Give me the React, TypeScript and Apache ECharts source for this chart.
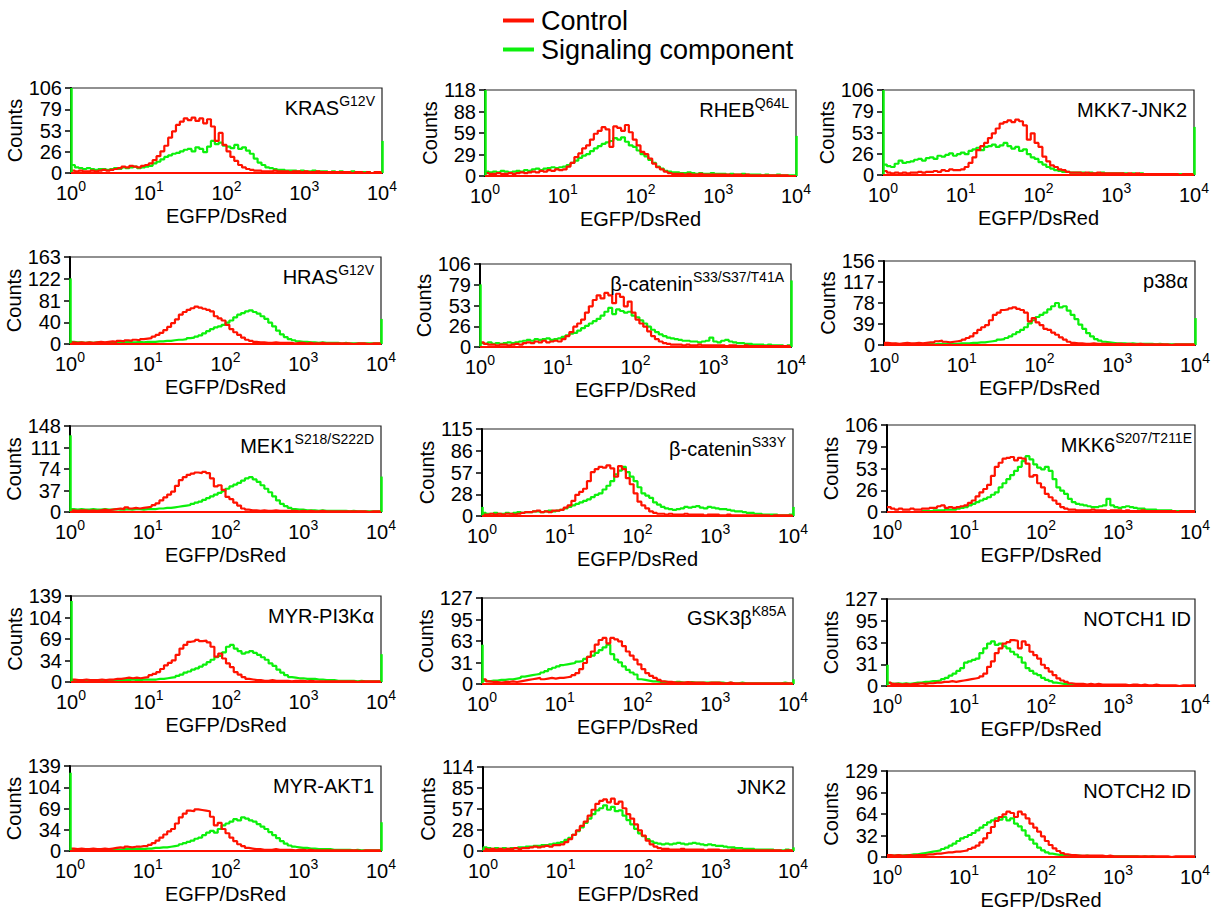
import React, { useEffect, useRef } from "react";
import * as echarts from "echarts";

// Bin edges on log10(EGFP/DsRed) scale (10^0 .. 10^4)
const BIN_EDGES = [
  0, 0.05, 0.1, 0.15, 0.2, 0.25, 0.3, 0.35, 0.4, 0.45,
  0.5, 0.55, 0.6, 0.65, 0.7, 0.75, 0.8, 0.85, 0.9, 0.95,
  1, 1.05, 1.1, 1.15, 1.2, 1.25, 1.3, 1.35, 1.4, 1.45,
  1.5, 1.55, 1.6, 1.65, 1.7, 1.75, 1.8, 1.85, 1.9, 1.95,
  2, 2.05, 2.1, 2.15, 2.2, 2.25, 2.3, 2.35, 2.4, 2.45,
  2.5, 2.55, 2.6, 2.65, 2.7, 2.75, 2.8, 2.85, 2.9, 2.95,
  3, 3.05, 3.1, 3.15, 3.2, 3.25, 3.3, 3.35, 3.4, 3.45,
  3.5, 3.55, 3.6, 3.65, 3.7, 3.75, 3.8, 3.85, 3.9, 3.95,
  4,
];
const X_EXPONENTS = [0, 1, 2, 3, 4];

const PANEL_NAMES = [
  "KRAS", "RHEB", "MKK7-JNK2",
  "HRAS", "β-catenin", "p38α",
  "MEK1", "β-catenin", "MKK6",
  "MYR-PI3Kα", "GSK3β", "NOTCH1 ID",
  "MYR-AKT1", "JNK2", "NOTCH2 ID",
];
const PANEL_SUPS = [
  "G12V", "Q64L", "",
  "G12V", "S33/S37/T41A", "",
  "S218/S222D", "S33Y", "S207/T211E",
  "", "K85A", "",
  "", "", "",
];
const Y_MAX = [106, 118, 106, 163, 106, 156, 148, 115, 106, 139, 127, 127, 139, 114, 129];

// Signaling-component counts piled at the scale edges (10^0 and 10^4)
const SIG_LEFT_EDGE = [106, 118, 106, 123, 80, 0, 132, 12, 0, 131, 58, 31, 128, 5, 0];
const SIG_RIGHT_EDGE = [40, 55, 60, 47, 85, 50, 61, 12, 0, 45, 7, 0, 47, 5, 0];

// ---- Control (red) and Signaling component (green) histograms ----
const ctrlKRAS = [3,2,3,2,2,3,2,3,4,3, 4,5,6,8,7,9,8,7,9,10, 12,16,21,27,34,44,52,60,64,68, 66,69,65,68,62,67,58,40,50,35, 27,20,15,10,7,5,4,3,3,2, 2,2,3,2,2,2,1,2,2,1, 2,1,1,2,1,1,1,1,1,1, 1,1,0,1,1,0,1,0,1,1];
const sigKRAS = [10,7,6,5,6,5,4,5,5,4, 5,6,5,7,6,7,8,6,7,8, 9,12,14,17,20,22,24,25,27,29, 30,27,32,30,26,33,40,36,38,34, 33,31,35,30,32,28,24,18,13,10, 7,6,5,4,4,3,3,3,2,3, 2,2,3,2,2,2,1,2,1,2, 1,1,2,1,1,1,1,0,1,1];

const ctrlRHEB = [4,3,3,4,3,3,4,3,4,5, 4,5,6,5,7,6,8,7,9,8, 9,13,18,26,31,38,42,50,58,62, 67,64,40,68,66,62,70,60,50,42, 33,30,24,17,12,9,6,4,3,3, 3,2,3,2,2,3,2,2,2,2, 2,2,2,1,2,2,1,2,1,1, 1,1,1,1,1,1,1,1,0,0];
const sigRHEB = [6,5,6,5,7,6,5,6,7,6, 8,7,9,10,8,10,11,12,11,12, 13,15,18,21,25,28,30,34,38,41, 44,46,48,52,50,53,47,42,40,35, 30,27,22,18,13,10,7,6,5,5, 4,4,5,4,3,4,3,3,4,3, 3,3,2,3,2,2,3,2,2,2, 2,1,2,1,1,2,1,1,1,1];

const ctrlMKK7 = [5,3,2,3,2,3,2,3,3,4, 3,4,4,5,4,6,5,7,6,6, 7,10,15,22,31,36,40,46,52,58, 64,66,68,66,69,67,62,44,52,40, 35,23,17,12,10,7,6,4,3,3, 3,2,3,2,2,3,2,2,2,2, 2,2,1,2,1,2,1,1,1,1, 1,1,1,1,1,1,0,1,1,1];
const sigMKK7 = [13,11,10,14,18,15,16,17,19,20, 18,21,22,20,24,23,25,27,24,26, 28,26,30,32,34,31,35,36,38,35, 37,40,36,33,35,30,32,26,22,20, 16,13,10,8,6,5,4,4,3,3, 3,3,2,3,2,2,3,2,2,2, 2,2,2,1,2,1,2,1,1,1, 1,1,1,1,1,0,1,1,1,1];

const ctrlHRAS = [3,2,3,2,3,2,3,4,3,4, 5,4,6,5,7,6,8,7,9,10, 11,14,17,21,26,32,39,46,55,60, 64,67,70,68,66,64,61,52,48,44, 36,28,22,17,12,8,6,4,3,3, 2,2,3,2,2,2,2,1,2,2, 1,2,1,1,2,1,1,1,1,1, 1,1,0,1,1,1,0,1,1,1];
const sigHRAS = [4,3,3,2,3,2,3,3,2,3, 3,2,3,3,4,3,3,4,3,4, 4,4,5,5,6,6,7,8,8,9, 11,12,14,16,20,24,28,31,33,36, 40,44,50,55,58,61,63,60,57,52, 47,40,33,25,18,13,9,7,5,4, 4,3,3,2,3,2,2,2,2,1, 2,1,1,1,1,1,1,1,1,1];

const ctrlBCAT1 = [6,4,3,3,2,3,3,2,3,4, 3,5,6,5,7,6,8,6,7,8, 7,10,14,19,26,30,35,44,52,60, 66,62,69,66,56,68,64,52,58,44, 35,30,26,20,14,10,7,5,4,3, 3,3,2,3,2,2,3,2,2,2, 2,2,2,1,2,2,1,1,2,1, 1,1,1,1,1,1,1,1,1,1];
const sigBCAT1 = [5,4,6,4,5,4,5,6,5,6, 7,8,9,8,10,9,10,11,9,10, 11,13,15,17,18,21,24,27,30,33, 36,40,45,50,42,48,46,44,45,40, 38,34,30,26,22,19,16,14,12,11, 10,9,8,8,7,7,6,7,8,12, 7,6,8,9,7,6,5,5,4,4, 3,3,3,2,3,2,2,2,1,2];

const ctrlP38 = [4,3,3,2,3,4,3,3,4,3, 4,5,5,7,8,6,5,6,7,8, 10,13,16,22,28,33,37,46,56,60, 65,66,68,70,67,65,60,44,50,42, 37,30,28,23,19,14,10,6,4,3, 3,2,2,3,2,2,2,2,1,2, 2,1,2,1,1,2,1,1,1,1, 1,1,1,0,1,1,1,1,1,1];
const sigP38 = [2,1,2,1,2,2,1,2,2,1, 2,2,1,2,2,2,3,2,2,3, 3,3,4,4,5,5,6,7,8,10, 11,13,16,20,24,28,33,40,46,52, 56,60,66,72,78,70,72,64,56,48, 38,30,22,16,11,8,6,5,4,3, 3,3,2,3,2,2,2,2,2,1, 2,1,1,1,1,1,1,1,1,1];

const ctrlMEK1 = [3,2,3,3,2,3,2,3,4,3, 4,5,6,5,8,6,7,6,7,8, 9,12,15,20,25,30,35,45,55,60, 64,66,68,67,69,67,58,44,46,38, 26,22,16,11,6,4,3,3,2,3, 2,2,3,2,2,2,2,2,1,2, 1,2,1,1,2,1,1,1,1,1, 1,1,1,1,1,1,0,1,1,1];
const sigMEK1 = [5,4,5,4,4,5,4,4,5,4, 4,5,4,4,5,4,5,5,4,5, 5,5,6,6,7,7,8,9,10,11, 12,14,16,18,21,24,27,30,33,36, 40,44,47,50,54,58,60,56,52,46, 40,34,27,20,14,10,7,5,4,4, 3,3,3,2,3,2,2,2,2,2, 2,1,2,1,1,1,1,1,1,1];

const ctrlBCAT2 = [2,2,3,2,3,2,3,3,2,3, 4,5,5,6,7,5,6,5,7,7, 8,11,14,20,28,32,36,46,58,62, 65,64,67,63,52,66,62,50,42,30, 19,14,10,6,4,3,3,2,3,2, 2,2,3,2,2,2,2,1,2,2, 2,1,1,2,1,1,1,1,1,1, 1,1,1,1,0,1,1,1,1,1];
const sigBCAT2 = [4,3,3,4,3,3,4,3,4,5, 4,5,5,6,6,5,6,7,6,7, 8,10,12,14,16,18,20,22,25,28, 30,35,40,46,55,60,65,58,52,46, 38,30,27,24,18,15,12,10,9,8, 9,10,12,11,12,13,11,10,12,11, 10,9,9,8,7,6,6,5,4,4, 3,3,2,2,2,2,1,1,1,2];

const ctrlMKK6 = [6,4,3,4,3,3,4,3,3,4, 4,5,5,7,8,5,6,5,6,7, 8,11,14,19,24,28,33,44,55,60, 65,66,67,63,66,65,59,43,45,35, 30,22,18,14,10,6,4,3,3,2, 2,2,2,3,2,2,2,1,2,2, 2,1,2,1,1,1,2,1,1,1, 1,1,1,1,1,0,1,1,1,1];
const sigMKK6 = [0,0,0,0,0,0,0,0,0,1, 1,1,2,2,2,3,3,3,4,5, 6,8,10,12,14,16,18,21,24,30, 35,40,45,50,55,62,68,64,58,54, 52,55,50,40,30,26,22,16,12,10, 9,8,7,6,6,7,8,16,8,6, 5,6,7,6,5,4,4,3,3,3, 2,2,2,2,1,1,1,1,1,1];

const ctrlPI3K = [4,3,3,4,3,3,3,4,3,4, 4,5,5,6,7,6,7,6,7,8, 11,13,16,21,27,31,35,44,54,60, 65,66,68,66,67,64,57,41,46,38, 30,24,16,12,8,5,4,3,3,2, 2,3,2,2,2,2,1,2,2,2, 1,2,1,1,1,1,1,1,1,1, 1,1,1,0,1,1,1,1,1,1];
const sigPI3K = [3,2,3,3,2,3,3,2,3,3, 3,2,3,3,3,4,3,3,4,4, 4,4,5,5,6,7,8,10,12,15, 17,20,22,25,28,32,36,40,42,48, 57,60,54,50,46,48,50,47,44,40, 36,30,26,20,15,11,8,7,6,6, 5,5,5,4,4,3,3,3,2,2, 2,2,2,1,2,1,1,1,1,1];

const ctrlGSK3B = [7,4,3,3,2,3,3,4,3,4, 5,6,7,8,9,7,8,9,8,9, 9,10,11,13,16,22,31,40,48,58, 65,68,60,68,66,63,56,48,42,36, 29,22,16,12,9,6,4,3,3,2, 2,2,3,2,2,2,2,1,2,2, 2,1,1,2,1,1,1,1,1,1, 1,1,1,1,1,1,1,1,1,1];
const sigGSK3B = [5,4,5,5,6,6,7,7,8,9, 11,12,13,14,15,17,19,22,24,26, 28,29,30,31,33,34,37,40,42,46, 50,54,58,44,36,32,26,21,17,14, 7,6,5,4,4,3,3,3,2,3, 3,2,2,3,2,2,2,2,2,2, 2,2,1,2,1,1,2,1,1,1, 1,1,1,1,1,1,1,2,1,1];

const ctrlNOTCH1 = [5,3,3,2,3,2,3,3,4,3, 4,4,5,5,6,6,7,6,7,8, 9,10,11,12,14,18,28,36,48,55, 62,64,67,66,55,65,60,50,45,40, 31,26,21,16,11,8,6,4,3,3, 3,2,3,2,3,2,2,2,2,2, 2,2,1,2,2,1,2,1,1,2, 1,1,1,1,1,0,1,1,1,1];
const sigNOTCH1 = [4,3,4,3,4,3,4,5,5,6, 6,7,7,8,10,12,15,18,22,26, 34,36,38,40,48,55,62,65,60,62, 58,55,50,46,42,34,26,22,18,16, 12,9,7,5,4,3,3,2,2,2, 2,1,2,1,1,1,1,1,1,1, 1,1,1,0,1,0,1,0,0,0, 0,0,0,0,0,0,0,0,0,0];

const ctrlAKT1 = [4,3,4,3,3,4,3,3,4,3, 4,5,6,5,7,6,7,7,8,8, 10,13,17,22,27,32,36,45,55,61, 66,65,68,67,66,65,56,42,46,36, 29,22,16,11,8,5,4,3,3,2, 2,2,3,2,2,2,2,1,2,2, 1,2,1,1,1,1,1,1,1,1, 1,1,1,1,0,1,1,1,1,1];
const sigAKT1 = [3,2,3,2,3,3,2,3,3,2, 3,3,2,3,4,3,3,4,3,4, 4,5,5,6,6,7,8,9,11,13, 15,17,20,22,26,30,33,30,36,42, 45,48,52,50,55,53,50,48,44,40, 36,31,26,21,16,12,9,7,6,5, 5,4,4,3,3,3,3,2,2,2, 2,2,1,2,1,1,1,1,1,1];

const ctrlJNK2 = [3,2,3,2,3,2,3,3,4,3, 4,4,5,6,5,6,7,6,8,8, 9,12,16,22,28,34,40,48,56,64, 68,70,66,71,64,67,58,50,44,36, 28,21,14,9,6,4,3,3,2,2, 2,3,2,2,2,2,2,1,2,2, 2,1,1,1,2,1,1,1,1,1, 1,1,1,1,1,1,1,0,1,1];
const sigJNK2 = [5,4,3,4,3,4,3,4,4,5, 5,6,6,7,7,8,8,9,10,11, 12,15,18,22,27,32,38,44,50,55, 58,62,56,60,54,55,48,42,36,30, 24,20,16,13,11,10,9,10,9,10, 11,10,9,10,11,10,9,8,9,8, 7,7,6,5,5,4,4,3,3,3, 2,2,2,2,2,1,1,1,2,1];

const ctrlNOTCH2 = [3,2,3,2,2,3,2,3,3,3, 4,4,5,5,6,7,7,8,8,9, 10,12,14,17,22,28,36,45,54,60, 64,68,66,60,68,64,58,50,44,38, 31,24,18,13,9,6,4,3,3,2, 2,2,2,2,2,2,1,2,1,1, 1,1,1,1,1,1,1,1,1,1, 1,1,1,0,1,1,1,1,1,1];
const sigNOTCH2 = [2,2,3,2,3,3,4,4,5,6, 7,8,9,10,12,14,17,20,24,28, 30,33,36,40,44,48,52,55,58,56, 60,55,58,50,46,40,32,26,20,14, 10,7,5,4,3,3,2,2,2,2, 1,2,1,1,1,1,1,1,1,1, 1,1,1,1,1,0,1,0,1,0, 0,0,0,0,0,0,0,0,0,0];

const CONTROL_SERIES = [ctrlKRAS, ctrlRHEB, ctrlMKK7, ctrlHRAS, ctrlBCAT1, ctrlP38, ctrlMEK1, ctrlBCAT2, ctrlMKK6, ctrlPI3K, ctrlGSK3B, ctrlNOTCH1, ctrlAKT1, ctrlJNK2, ctrlNOTCH2];
const SIGNAL_SERIES = [sigKRAS, sigRHEB, sigMKK7, sigHRAS, sigBCAT1, sigP38, sigMEK1, sigBCAT2, sigMKK6, sigPI3K, sigGSK3B, sigNOTCH1, sigAKT1, sigJNK2, sigNOTCH2];

// Layout (pixels): plot rectangle of each panel
const LAYOUT = [
  [71, 88, 311, 85], [485, 90, 311, 86], [883, 90, 311, 85],
  [70, 257, 311, 87], [480, 264, 311, 83], [884, 261, 311, 84],
  [70, 426, 311, 86], [482, 429, 311, 87], [887, 425, 312, 87],
  [71, 596, 310, 86], [482, 598, 311, 86], [887, 599, 311, 87],
  [70, 766, 311, 85], [483, 767, 310, 84], [887, 771, 311, 86],
];

const RED = "#ff1200";
const GREEN = "#0cf00c";
const FONT = "'Liberation Sans', Arial, Helvetica, sans-serif";

function toSteps(counts: number[]) {
  const pts = counts.map((c, i) => [BIN_EDGES[i], c]);
  pts.push([BIN_EDGES[BIN_EDGES.length - 1], counts[counts.length - 1]]);
  return pts;
}

export default function App() {
  const ref = useRef<HTMLDivElement>(null);
  useEffect(() => {
    if (!ref.current) return;
    const chart = echarts.init(ref.current, undefined, { renderer: "svg" });
    const grids: any[] = [];
    const xAxes: any[] = [];
    const yAxes: any[] = [];
    const series: any[] = [];
    const graphics: any[] = [];
    LAYOUT.forEach(([left, top, width, height], i) => {
      const max = Y_MAX[i];
      grids.push({
        left, top, width, height, show: true,
        borderColor: "#222", borderWidth: 1.2, backgroundColor: "transparent",
        containLabel: false,
      });
      xAxes.push({
        gridIndex: i, type: "value", min: 0, max: 4, interval: 1,
        axisLine: { show: true, onZero: false, lineStyle: { color: "#000", width: 2 } },
        axisTick: { show: false },
        splitLine: { show: false },
        axisLabel: {
          margin: 6,
          formatter: (v: number) => `{b|10}{s|${X_EXPONENTS[Math.round(v)]}}`,
          rich: {
            b: { fontSize: 20, fontFamily: FONT, color: "#000", lineHeight: 24, verticalAlign: "bottom" },
            s: { fontSize: 14, fontFamily: FONT, color: "#000", lineHeight: 14, verticalAlign: "top" },
          },
        },
        name: "EGFP/DsRed",
        nameLocation: "middle",
        nameGap: 33,
        nameTextStyle: { fontSize: 20, fontFamily: FONT, color: "#000" },
      });
      yAxes.push({
        gridIndex: i, type: "value", min: 0, max, interval: max / 4,
        axisLine: { show: true, lineStyle: { color: "#000", width: 2 } },
        axisTick: { show: true, length: 6, lineStyle: { color: "#000", width: 1.5 } },
        splitLine: { show: false },
        axisLabel: {
          margin: 9, fontSize: 20, fontFamily: FONT, color: "#000",
          showMinLabel: true, showMaxLabel: true,
          formatter: (v: number) => String(Math.floor(v + 1e-9)),
        },
        name: "Counts",
        nameLocation: "middle",
        nameGap: 44,
        nameRotate: 90,
        nameTextStyle: { fontSize: 20, fontFamily: FONT, color: "#000" },
      });
      series.push({
        name: "Signaling component",
        type: "line", step: "end", xAxisIndex: i, yAxisIndex: i,
        showSymbol: false, symbol: "none", silent: true,
        lineStyle: { color: GREEN, width: 2.2 }, itemStyle: { color: GREEN },
        data: toSteps(SIGNAL_SERIES[i]),
        markLine: {
          silent: true, symbol: "none", label: { show: false },
          lineStyle: { color: GREEN, width: 2.5, type: "solid" },
          data: [
            [{ coord: [BIN_EDGES[0], 0] }, { coord: [BIN_EDGES[0], Math.min(SIG_LEFT_EDGE[i], max)] }],
            [{ coord: [BIN_EDGES[80], 0] }, { coord: [BIN_EDGES[80], Math.min(SIG_RIGHT_EDGE[i], max)] }],
          ],
        },
      });
      series.push({
        name: "Control",
        type: "line", step: "end", xAxisIndex: i, yAxisIndex: i,
        showSymbol: false, symbol: "none", silent: true,
        lineStyle: { color: RED, width: 2.2 }, itemStyle: { color: RED },
        data: toSteps(CONTROL_SERIES[i]),
        markLine: {
          silent: true, symbol: "none", label: { show: false },
          lineStyle: { color: RED, width: 2, type: "solid" },
          data: [{ yAxis: 0 }],
        },
      });
      const sup = PANEL_SUPS[i];
      graphics.push({
        type: "text",
        x: left + width - 7,
        y: top + 18,
        z: 100,
        style: {
          text: sup ? `{m|${PANEL_NAMES[i]}}{s|${sup}}` : `{m|${PANEL_NAMES[i]}}`,
          align: "right",
          verticalAlign: "middle",
          rich: {
            m: { fontSize: 20, fontFamily: FONT, fill: "#000", lineHeight: 24, verticalAlign: "bottom" },
            s: { fontSize: 14, fontFamily: FONT, fill: "#000", lineHeight: 14, verticalAlign: "top" },
          },
        },
      });
    });
    chart.setOption({
      animation: false,
      backgroundColor: "#fff",
      legend: {
        data: ["Control", "Signaling component"],
        orient: "vertical",
        left: 498,
        top: 2,
        icon: "rect",
        itemWidth: 31,
        itemHeight: 4,
        itemGap: 2,
        selectedMode: false,
        textStyle: { fontSize: 27, fontFamily: FONT, color: "#000", padding: [0, 0, 0, 2] },
      },
      grid: grids,
      xAxis: xAxes,
      yAxis: yAxes,
      series,
      graphic: graphics,
    });
    return () => chart.dispose();
  }, []);
  return (
    <div
      ref={ref}
      style={{ position: "fixed", left: 0, top: 0, width: 1213, height: 914, background: "#fff" }}
    />
  );
}
